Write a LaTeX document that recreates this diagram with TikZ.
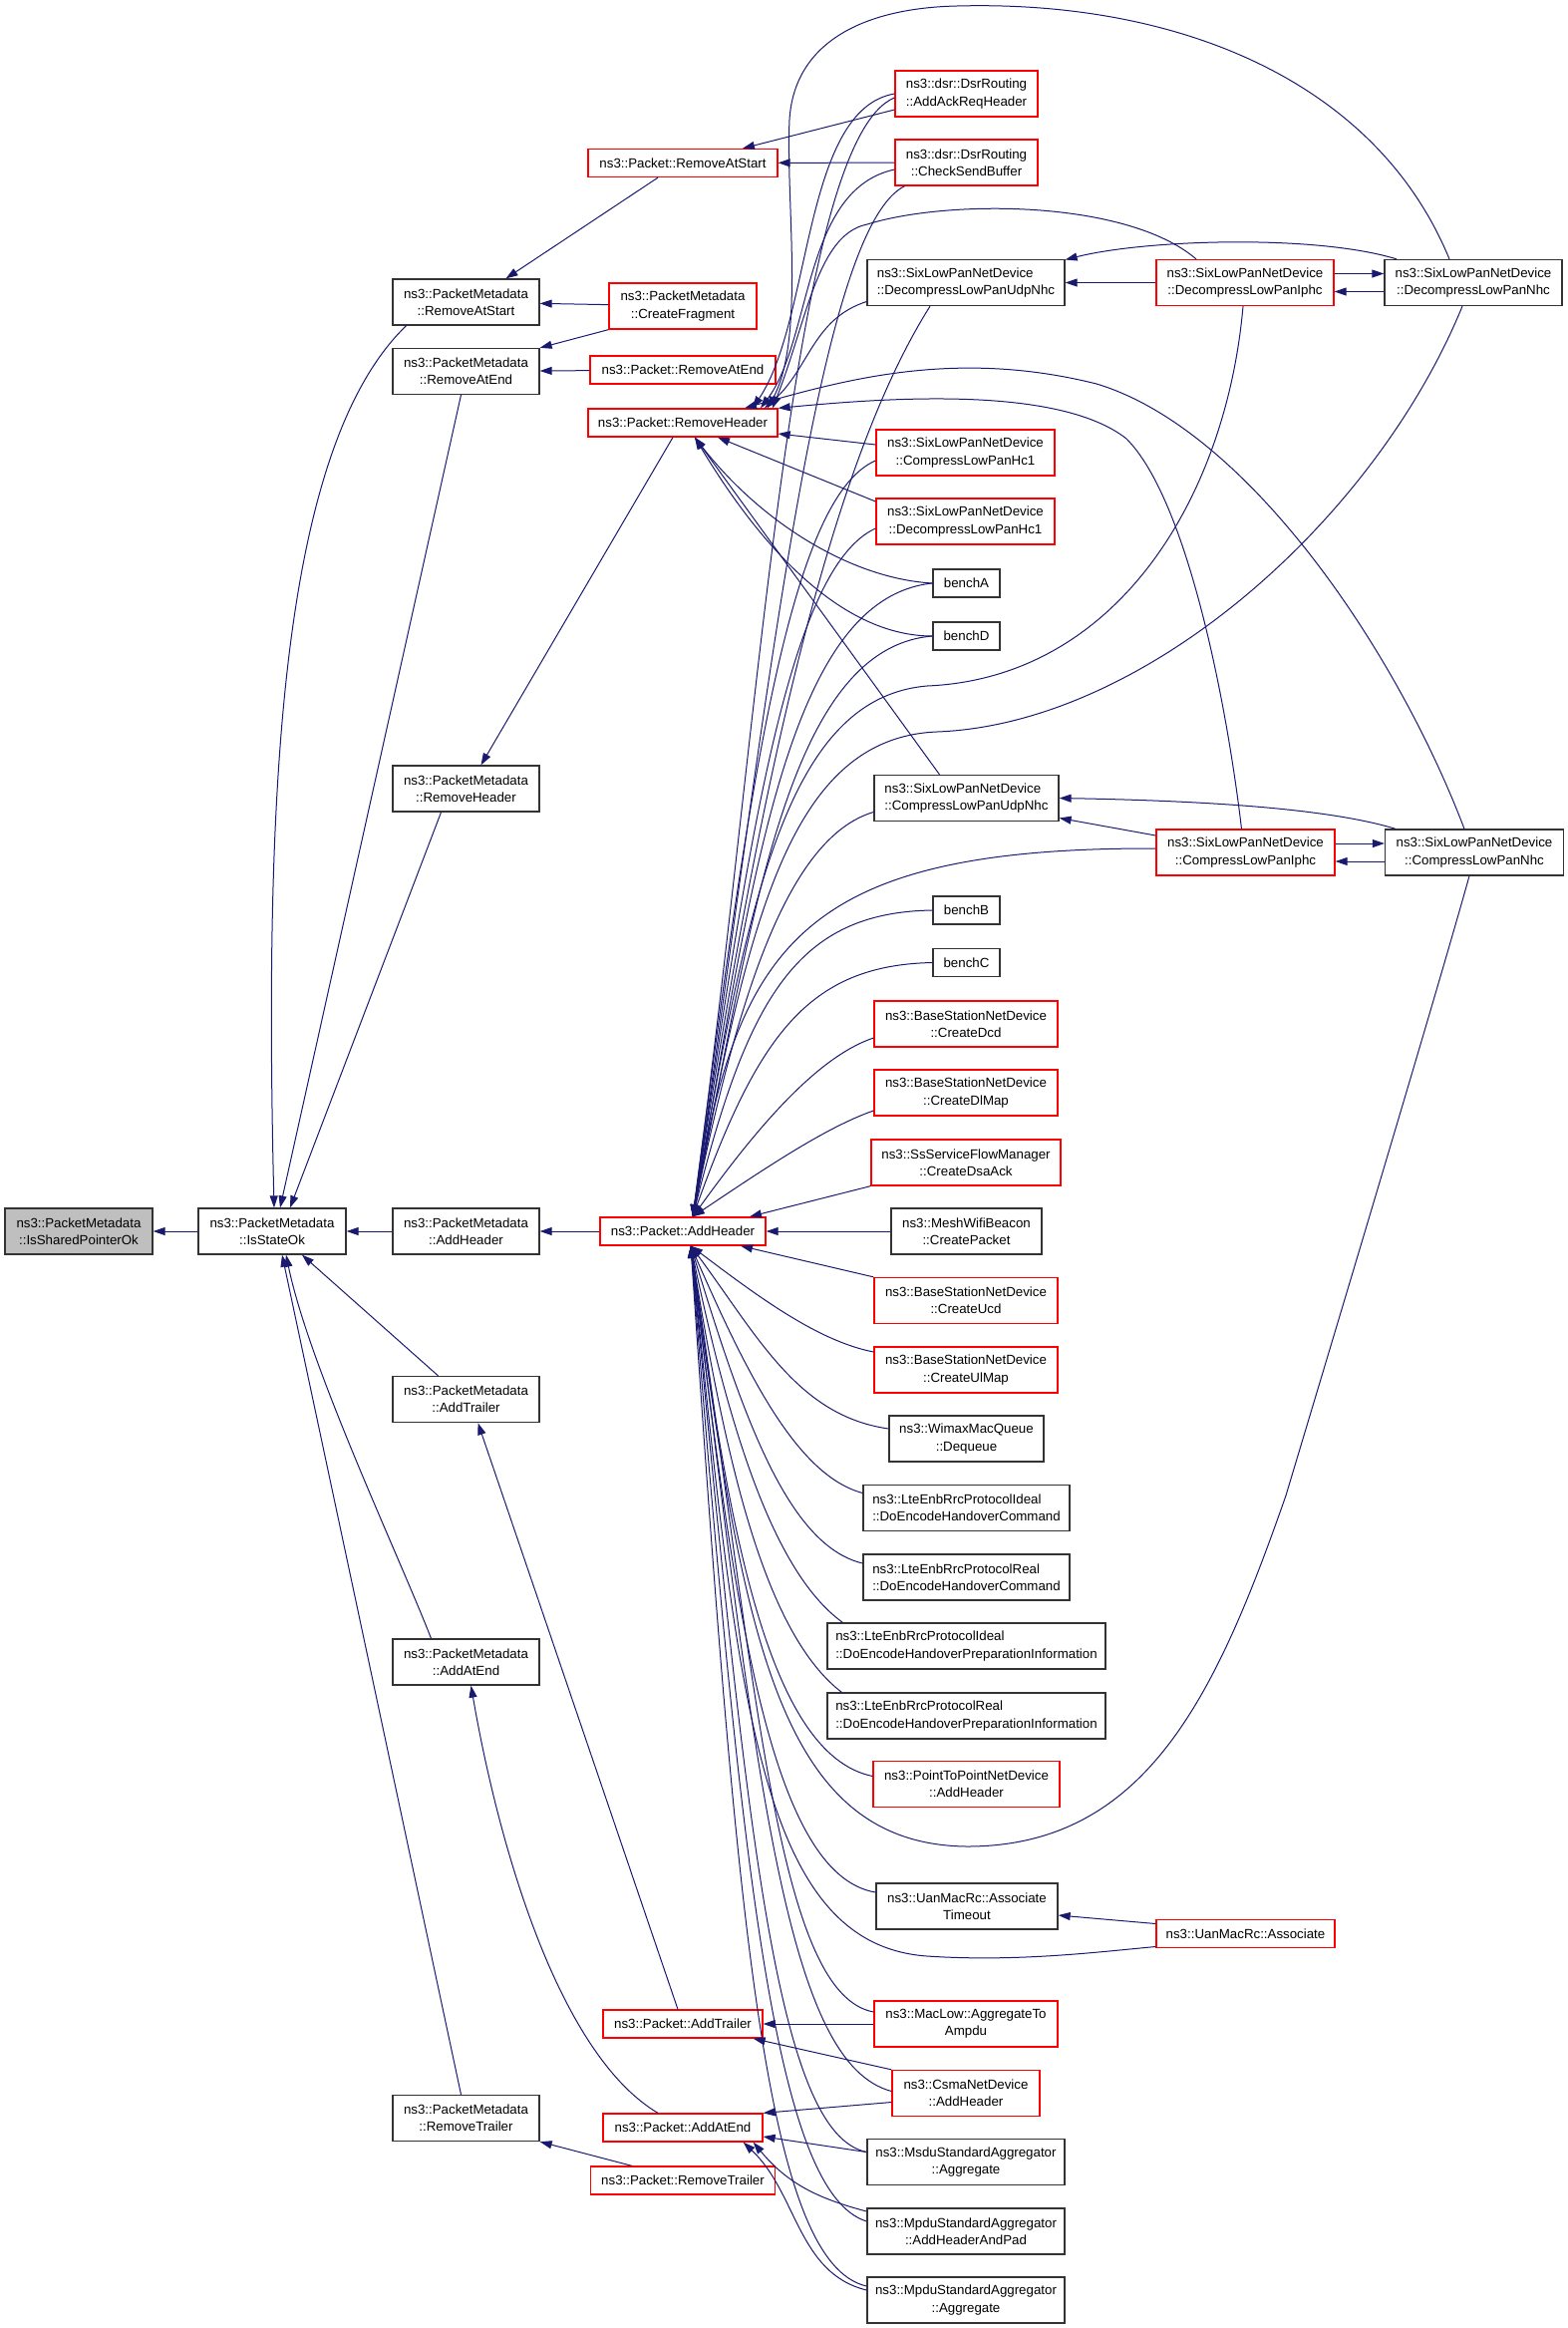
\documentclass[tikz,border=0pt]{standalone}
\usepackage{fontspec}
\setmainfont{Liberation Sans}
\usetikzlibrary{arrows.meta}
\definecolor{midnight}{HTML}{191970}
\newcommand{\fnfont}{\fontsize{13.3}{17.3}\selectfont}
\tikzset{
  fn/.style={draw=black!80, line width=1.3pt, fill=white, inner sep=0pt, minimum height=46, align=center, font=\fnfont},
  hot/.style={fn, draw=red},
  oneline/.style={minimum height=28},
  call/.style={draw=midnight, line width=1pt, {Triangle[length=12pt,width=8pt]}-}
}
\begin{document}
\begin{tikzpicture}[x=1pt,y=-1pt]
\useasboundingbox (0,0) rectangle (1573,2335);

\node[fn, fill=black!25, minimum width=148] (shared) at (79,1235) {ns3::PacketMetadata\\::IsSharedPointerOk};
\node[fn, minimum width=148] (stateok) at (273,1235) {ns3::PacketMetadata\\::IsStateOk};

\node[fn, minimum width=147] (pmremoveatstart) at (467.5,303) {ns3::PacketMetadata\\::RemoveAtStart};
\node[fn, minimum width=147] (pmremoveatend) at (467.5,372.5) {ns3::PacketMetadata\\::RemoveAtEnd};
\node[fn, minimum width=147] (pmremoveheader) at (467.5,791) {ns3::PacketMetadata\\::RemoveHeader};
\node[fn, minimum width=147] (pmaddheader) at (467.5,1235) {ns3::PacketMetadata\\::AddHeader};
\node[fn, minimum width=147] (pmaddtrailer) at (467.5,1403.5) {ns3::PacketMetadata\\::AddTrailer};
\node[fn, minimum width=147] (pmaddatend) at (467.5,1667) {ns3::PacketMetadata\\::AddAtEnd};
\node[fn, minimum width=147] (pmremovetrailer) at (467.5,2124.5) {ns3::PacketMetadata\\::RemoveTrailer};

\node[hot, oneline, minimum width=190] (removeatstart) at (685,163.5) {ns3::Packet::RemoveAtStart};
\node[hot, minimum width=148] (createfragment) at (685,307) {ns3::PacketMetadata\\::CreateFragment};
\node[hot, oneline, minimum width=186] (removeatend) at (685,371) {ns3::Packet::RemoveAtEnd};
\node[hot, oneline, minimum width=190] (removeheader) at (685,424) {ns3::Packet::RemoveHeader};
\node[hot, oneline, minimum width=166] (addheader) at (685,1235) {ns3::Packet::AddHeader};
\node[hot, oneline, minimum width=160] (addtrailer) at (685,2030) {ns3::Packet::AddTrailer};
\node[hot, oneline, minimum width=160] (addatend) at (685,2134) {ns3::Packet::AddAtEnd};
\node[hot, oneline, minimum width=185] (removetrailer) at (685,2187) {ns3::Packet::RemoveTrailer};

\node[hot, minimum width=143] (ackreq) at (969.5,94) {ns3::dsr::DsrRouting\\::AddAckReqHeader};
\node[hot, minimum width=143] (checksend) at (969.5,163) {ns3::dsr::DsrRouting\\::CheckSendBuffer};
\node[fn, align=left, minimum width=198] (dudpnhc) at (969,283.5) {ns3::SixLowPanNetDevice\\::DecompressLowPanUdpNhc};
\node[hot, minimum width=179] (chc1) at (968.5,454) {ns3::SixLowPanNetDevice\\::CompressLowPanHc1};
\node[hot, minimum width=179] (dhc1) at (968.5,523) {ns3::SixLowPanNetDevice\\::DecompressLowPanHc1};
\node[fn, oneline, minimum width=67] (bencha) at (969.5,585) {benchA};
\node[fn, oneline, minimum width=67] (benchd) at (969.5,638) {benchD};
\node[fn, align=left, minimum width=185] (cudpnhc) at (969.5,800.5) {ns3::SixLowPanNetDevice\\::CompressLowPanUdpNhc};
\node[fn, oneline, minimum width=67] (benchb) at (969.5,913) {benchB};
\node[fn, oneline, minimum width=67] (benchc) at (969.5,965.5) {benchC};
\node[hot, minimum width=184] (createdcd) at (969,1027) {ns3::BaseStationNetDevice\\::CreateDcd};
\node[hot, minimum width=184] (createdlmap) at (969,1096) {ns3::BaseStationNetDevice\\::CreateDlMap};
\node[hot, minimum width=190] (createdsaack) at (969,1166) {ns3::SsServiceFlowManager\\::CreateDsaAck};
\node[fn, minimum width=151] (createpacket) at (969.5,1235) {ns3::MeshWifiBeacon\\::CreatePacket};
\node[hot, minimum width=184] (createucd) at (969,1304.5) {ns3::BaseStationNetDevice\\::CreateUcd};
\node[hot, minimum width=184] (createulmap) at (969,1374) {ns3::BaseStationNetDevice\\::CreateUlMap};
\node[fn, minimum width=155] (dequeue) at (969.5,1443) {ns3::WimaxMacQueue\\::Dequeue};
\node[fn, align=left, minimum width=207] (idealcmd) at (969.5,1512.5) {ns3::LteEnbRrcProtocolIdeal\\::DoEncodeHandoverCommand};
\node[fn, align=left, minimum width=207] (realcmd) at (969.5,1582) {ns3::LteEnbRrcProtocolReal\\::DoEncodeHandoverCommand};
\node[fn, align=left, minimum width=279] (idealprep) at (969.5,1651) {ns3::LteEnbRrcProtocolIdeal\\::DoEncodeHandoverPreparationInformation};
\node[fn, align=left, minimum width=279] (realprep) at (969.5,1721) {ns3::LteEnbRrcProtocolReal\\::DoEncodeHandoverPreparationInformation};
\node[hot, minimum width=187] (p2p) at (969.5,1789.5) {ns3::PointToPointNetDevice\\::AddHeader};
\node[fn, minimum width=182] (assoctimeout) at (970,1912) {ns3::UanMacRc::Associate\\Timeout};
\node[hot, minimum width=184] (maclow) at (969,2030) {ns3::MacLow::AggregateTo\\Ampdu};
\node[hot, minimum width=148] (csma) at (969,2099.5) {ns3::CsmaNetDevice\\::AddHeader};
\node[fn, minimum width=198] (msdu) at (969,2168.5) {ns3::MsduStandardAggregator\\::Aggregate};
\node[fn, minimum width=198] (mpduahp) at (969,2238) {ns3::MpduStandardAggregator\\::AddHeaderAndPad};
\node[fn, minimum width=198] (mpduagg) at (969,2307) {ns3::MpduStandardAggregator\\::Aggregate};

\node[hot, minimum width=178] (diphc) at (1249,283.5) {ns3::SixLowPanNetDevice\\::DecompressLowPanIphc};
\node[fn, minimum width=178] (dnhc) at (1478,283.5) {ns3::SixLowPanNetDevice\\::DecompressLowPanNhc};
\node[hot, minimum width=179] (ciphc) at (1249.5,855) {ns3::SixLowPanNetDevice\\::CompressLowPanIphc};
\node[fn, minimum width=179] (cnhc) at (1479,855) {ns3::SixLowPanNetDevice\\::CompressLowPanNhc};
\node[hot, oneline, minimum width=179] (associate) at (1249.5,1939.5) {ns3::UanMacRc::Associate};

\coordinate (ahtop) at ([xshift=10]addheader.north);
\coordinate (ahbot) at ([xshift=8]addheader.south);
\coordinate (rhbot) at ([xshift=12]removeheader.south);

\foreach \a/\b in {shared/stateok, stateok/pmaddheader, pmaddheader/addheader,
  pmremoveatstart/createfragment, pmremoveatend/removeatend, removeatstart/checksend,
  dudpnhc/diphc, addheader/createpacket, addtrailer/maclow}
  \draw[call] (\a) -- (\b);

\draw[call] ([xshift=2]stateok.north) .. controls (265,800) and (280,450) .. ([xshift=-60]pmremoveatstart.south);
\draw[call] ([xshift=8]stateok.north) -- ([xshift=-5]pmremoveatend.south);
\draw[call] ([xshift=18]stateok.north) -- ([xshift=-25]pmremoveheader.south);
\draw[call] ([xshift=10]stateok.south) -- ([xshift=-5]pmremovetrailer.north);
\draw[call] ([xshift=14]stateok.south) .. controls (310,1370) and (400,1560) .. ([xshift=-35]pmaddatend.north);
\draw[call] ([xshift=30]stateok.south) -- ([xshift=-28]pmaddtrailer.north);
\draw[call] ([xshift=40]pmremoveatstart.north) -- ([xshift=-25]removeatstart.south);
\draw[call] (pmremoveatend.north east) -- (createfragment.south west);
\draw[call] ([xshift=15]pmremoveheader.north) -- ([xshift=-10]removeheader.south);
\draw[call] ([xshift=12]pmaddtrailer.south) -- ([xshift=-5]addtrailer.north);
\draw[call] ([xshift=5]pmaddatend.south) .. controls (500,1850) and (560,2060) .. ([xshift=-25]addatend.north);
\draw[call] (pmremovetrailer.south east) -- ([xshift=-51]removetrailer.north);

\draw[call] ([xshift=60]removeatstart.north) -- ([yshift=-16]ackreq.west);
\draw[call] ([xshift=70]removeheader.north) .. controls (815,320) and (805,110) .. (ackreq.west);
\draw[call] (ahtop) .. controls (765,700) and (795,140) .. ([yshift=-4]ackreq.west);
\draw[call] ([xshift=78]removeheader.north) .. controls (815,340) and (805,190) .. ([yshift=-7]checksend.west);
\draw[call] (ahtop) .. controls (770,700) and (820,230) .. ([xshift=-62]checksend.south);

\draw[call] ([xshift=82]removeheader.north) .. controls (812,370) and (815,320) .. ([yshift=-19]dudpnhc.west);
\draw[call] (ahtop) .. controls (760,800) and (830,470) .. ([xshift=-36]dudpnhc.south);
\draw[call] ([xshift=90]removeheader.north) .. controls (810,320) and (820,235) .. (870,225)
  .. controls (950,200) and (1130,200) .. ([xshift=-49]diphc.north);
\draw[call] ([xshift=85]removeheader.north) .. controls (808,340) and (788,200) .. (792,120)
  .. controls (797,40) and (870,8) .. (960,6) .. controls (1180,0) and (1380,80) .. ([xshift=-24]dnhc.north);
\draw[call] (ahtop) .. controls (750,900) and (790,700) .. (930,688)
  .. controls (1120,680) and (1230,500) .. ([xshift=-2]diphc.south);
\draw[call] (ahtop) .. controls (750,930) and (790,740) .. (940,734)
  .. controls (1150,726) and (1380,520) .. ([xshift=-11]dnhc.south);
\draw[call] ([yshift=23]dudpnhc.east) .. controls (1150,240) and (1320,235) .. ([xshift=-77]dnhc.north);
\draw[call] ([yshift=9]dnhc.west) -- ([yshift=9]diphc.east);
\draw[call] ([yshift=-9]diphc.east) -- ([yshift=-9]dnhc.west);

\draw[call] ([yshift=-11]removeheader.east) -- ([yshift=8]chc1.west);
\draw[call] (ahtop) .. controls (750,800) and (790,500) .. ([yshift=-8]chc1.west);
\draw[call] ([xshift=35]removeheader.south) -- ([yshift=20]dhc1.west);
\draw[call] (ahtop) .. controls (750,850) and (790,570) .. ([yshift=-7]dhc1.west);
\draw[call] (rhbot) .. controls (760,520) and (850,580) .. (bencha.west);
\draw[call] (ahtop) .. controls (755,880) and (790,600) .. (bencha.west);
\draw[call] (rhbot) .. controls (770,560) and (850,638) .. (benchd.west);
\draw[call] (ahtop) .. controls (755,920) and (790,650) .. (benchd.west);
\draw[call] (rhbot) -- ([xshift=-27]cudpnhc.north);
\draw[call] (ahtop) .. controls (740,1000) and (790,840) .. ([yshift=-14]cudpnhc.west);

\draw[call] (removeheader.north east) .. controls (880,400) and (1060,385) .. (1130,440)
  .. controls (1190,500) and (1230,700) .. ([xshift=-4]ciphc.north);
\draw[call] ([xshift=62]removeheader.north) .. controls (850,380) and (960,350) .. (1100,385)
  .. controls (1250,430) and (1400,650) .. ([xshift=-10]cnhc.north);
\draw[call] (ahtop) .. controls (740,950) and (800,850) .. ([yshift=4]ciphc.west);
\draw[call] (ahbot) .. controls (745,1640) and (780,1850) .. (970,1852)
  .. controls (1150,1852) and (1220,1700) .. (1290,1500) .. controls (1350,1300) and (1440,1000) .. ([xshift=-5]cnhc.south);
\draw[call] ([yshift=-20]cudpnhc.east) -- ([yshift=17]ciphc.west);
\draw[call] (cudpnhc.east) .. controls (1200,803) and (1330,810) .. ([xshift=-79]cnhc.north);
\draw[call] ([yshift=9]cnhc.west) -- ([yshift=9]ciphc.east);
\draw[call] ([yshift=-9]ciphc.east) -- ([yshift=-9]cnhc.west);

\draw[call] (ahtop) .. controls (750,1000) and (800,915) .. (benchb.west);
\draw[call] (ahtop) .. controls (760,1040) and (810,968) .. (benchc.west);
\draw[call] (ahtop) .. controls (760,1130) and (820,1060) .. ([yshift=-14]createdcd.west);
\draw[call] (ahtop) .. controls (770,1170) and (830,1130) .. ([yshift=-18]createdlmap.west);
\draw[call] ([xshift=67]addheader.north) -- (createdsaack.south west);
\draw[call] ([xshift=58]addheader.south) -- (createucd.north west);
\draw[call] (ahbot) .. controls (760,1300) and (820,1345) .. ([yshift=18]createulmap.west);
\draw[call] (ahbot) .. controls (760,1340) and (800,1420) .. ([yshift=10]dequeue.west);
\draw[call] (ahbot) .. controls (750,1380) and (800,1480) .. ([yshift=15]idealcmd.west);
\draw[call] (ahbot) .. controls (745,1420) and (790,1550) .. ([yshift=14]realcmd.west);
\draw[call] (ahbot) .. controls (735,1450) and (780,1580) .. ([xshift=16]idealprep.north west);
\draw[call] (ahbot) .. controls (730,1480) and (770,1640) .. ([xshift=15]realprep.north west);
\draw[call] (ahbot) .. controls (730,1530) and (770,1760) .. ([yshift=8]p2p.west);
\draw[call] (ahbot) .. controls (735,1600) and (770,1880) .. ([yshift=14]assoctimeout.west);
\draw[call] (ahbot) .. controls (740,1700) and (760,1950) .. (930,1962)
  .. controls (1020,1968) and (1100,1958) .. ([yshift=-13]associate.west);
\draw[call] ([yshift=-9]assoctimeout.east) -- ([yshift=10]associate.west);

\draw[call] (ahbot) .. controls (760,1700) and (780,2000) .. ([yshift=12]maclow.west);
\draw[call] ([xshift=-10]addtrailer.south east) -- (csma.north west);
\draw[call] (addatend.north east) -- ([yshift=-9]csma.west);
\draw[call] (ahbot) .. controls (760,1800) and (790,2070) .. ([yshift=2]csma.west);
\draw[call] ([yshift=-9]addatend.east) -- ([yshift=10]msdu.west);
\draw[call] (ahbot) .. controls (750,1850) and (780,2140) .. ([yshift=10]msdu.west);
\draw[call] ([xshift=-10]addatend.south east) .. controls (790,2190) and (820,2205) .. ([yshift=20]mpduahp.west);
\draw[call] (ahbot) .. controls (745,1900) and (780,2200) .. ([yshift=10]mpduahp.west);
\draw[call] ([xshift=-20]addatend.south east) .. controls (800,2200) and (800,2280) .. ([yshift=10]mpduagg.west);
\draw[call] (ahbot) .. controls (740,1950) and (770,2270) .. ([yshift=14]mpduagg.west);
\end{tikzpicture}
\end{document}
